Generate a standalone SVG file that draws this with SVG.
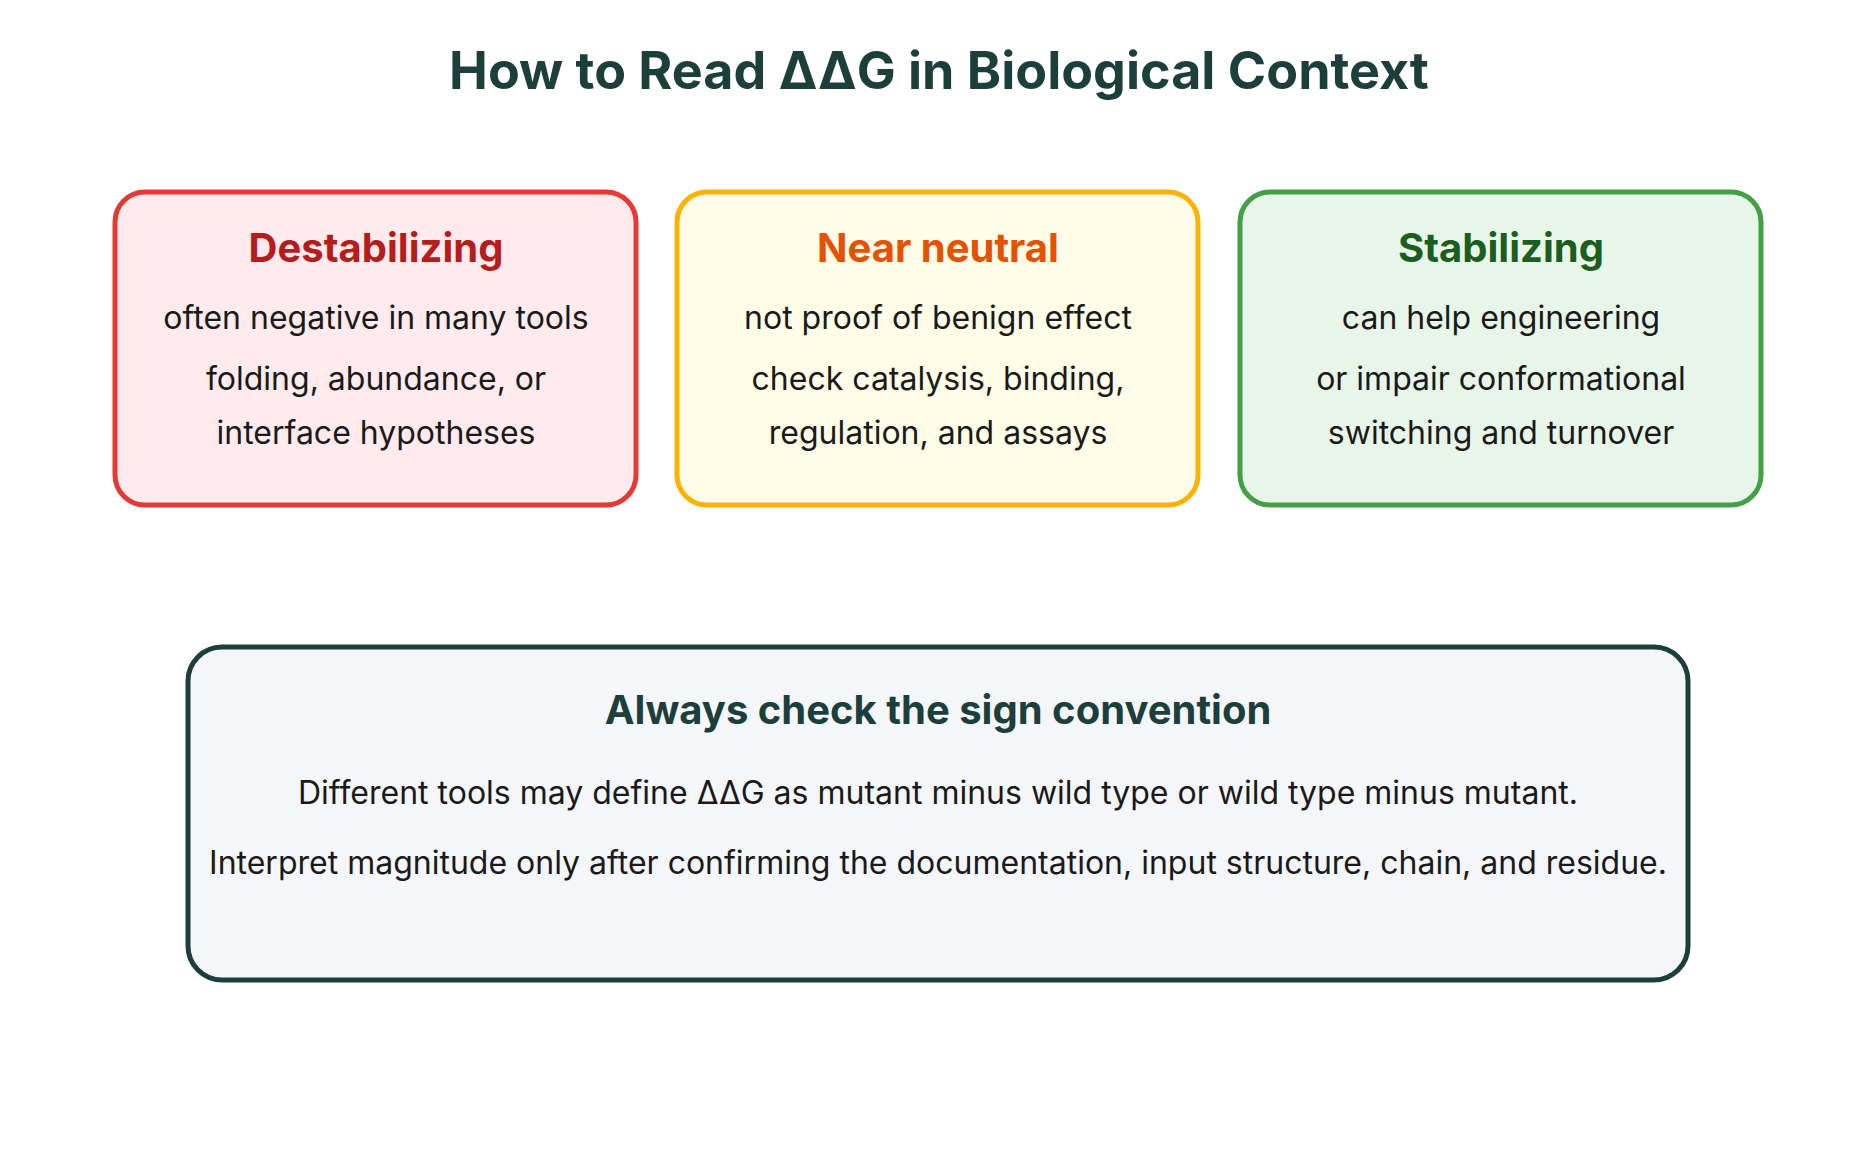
<svg xmlns="http://www.w3.org/2000/svg" width="1875" height="1167" viewBox="0 0 1875 1167">
<style>
text{font-family:Inter,"Noto Sans",sans-serif;text-anchor:middle}
.t{font-size:52px;font-weight:700;fill:#1d3f3c}
.h{font-size:40px;font-weight:700}
.b{font-size:32px;fill:#1a1a1a}
.box{stroke-width:5}
</style>
<rect width="1875" height="1167" fill="#fff"/>
<text class="t" x="939" y="89">How to Read ΔΔG in Biological Context</text>
<g id="destabilizing">
<rect class="box" x="115" y="192" width="521" height="313" rx="30" fill="#ffebee" stroke="#e53935"/>
<text class="h" x="376" y="262" fill="#b71c1c">Destabilizing</text>
<text class="b" x="376" y="329">often negative in many tools</text>
<text class="b" x="376" y="390">folding, abundance, or</text>
<text class="b" x="376" y="444">interface hypotheses</text>
</g>
<g id="neutral">
<rect class="box" x="677" y="192" width="521" height="313" rx="30" fill="#fffde7" stroke="#ffb300"/>
<text class="h" x="938" y="262" fill="#e65100">Near neutral</text>
<text class="b" x="938" y="329">not proof of benign effect</text>
<text class="b" x="938" y="390">check catalysis, binding,</text>
<text class="b" x="938" y="444">regulation, and assays</text>
</g>
<g id="stabilizing">
<rect class="box" x="1240" y="192" width="521" height="313" rx="30" fill="#e8f5e9" stroke="#43a047"/>
<text class="h" x="1501" y="262" fill="#1b5e20">Stabilizing</text>
<text class="b" x="1501" y="329">can help engineering</text>
<text class="b" x="1501" y="390">or impair conformational</text>
<text class="b" x="1501" y="444">switching and turnover</text>
</g>
<g id="sign">
<rect class="box" x="188" y="647" width="1500" height="333" rx="34" fill="#f5f6fa" stroke="#1d3f3c"/>
<text class="h" x="938" y="724" fill="#1d3f3c">Always check the sign convention</text>
<text class="b" x="938" y="804">Different tools may define ΔΔG as mutant minus wild type or wild type minus mutant.</text>
<text class="b" x="938" y="874">Interpret magnitude only after confirming the documentation, input structure, chain, and residue.</text>
</g>
<g id="connectors"/>
</svg>
